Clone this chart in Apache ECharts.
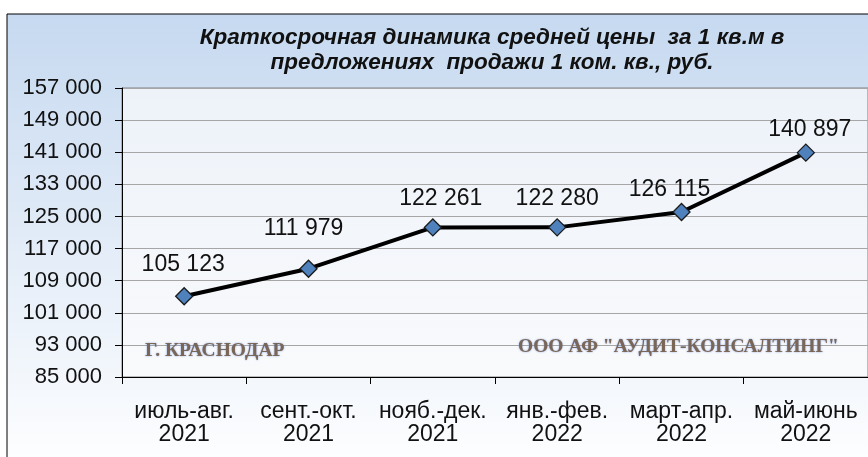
<!DOCTYPE html>
<html>
<head>
<meta charset="utf-8">
<script src="https://cdn.jsdelivr.net/npm/echarts@6/dist/echarts.min.js"></script>
<style>
  html, body { margin: 0; padding: 0; background: #ffffff; }
  #chart { width: 868px; height: 457px; }
</style>
</head>
<body>
<div id="chart"></div>
<script>
// данные
const periods = ['июль-авг.\n2021', 'сент.-окт.\n2021', 'нояб.-дек.\n2021', 'янв.-фев.\n2022', 'март-апр.\n2022', 'май-июнь\n2022']
const prices = [105123, 111979, 122261, 122280, 126115, 140897]
const yMin = 85000
const yMax = 157000
const yStep = 8000

// сдвиг подписей (как в исходной диаграмме)
const labelShift = [[-1, -6], [-5, -14], [8, -3], [0, -3], [-12, 3], [4, 3]]

const fmt = (v) => String(v).replace(/\B(?=(\d{3})+(?!\d))/g, ' ')

const chart = echarts.init(document.getElementById('chart'))
chart.setOption({
  backgroundColor: '#ffffff',
  animation: false,
  textStyle: { fontFamily: 'Arial, "Liberation Sans", sans-serif' },
  graphic: [
    {
      type: 'rect',
      z: -10,
      shape: { x: 7, y: 14, width: 880, height: 460 },
      style: {
        fill: new echarts.graphic.LinearGradient(0, 0, 0, 1, [
          { offset: 0, color: '#c6d9f0' },
          { offset: 1, color: '#ffffff' },
        ]),
        stroke: '#000000',
        lineWidth: 1,
      },
    },
    {
      type: 'text',
      x: 492,
      y: 50,
      style: {
        text: 'Краткосрочная динамика средней цены  за 1 кв.м в\nпредложениях  продажи 1 ком. кв., руб.',
        align: 'center',
        verticalAlign: 'middle',
        fontFamily: 'Arial, "Liberation Sans", sans-serif',
        fontStyle: 'italic',
        fontWeight: 'bold',
        fontSize: 22.5,
        lineHeight: 25,
        fill: '#111111',
      },
    },
    {
      type: 'text',
      x: 145,
      y: 351,
      z: 5,
      style: {
        text: 'Г. КРАСНОДАР',
        verticalAlign: 'middle',
        fontFamily: '"Liberation Serif", "Times New Roman", serif',
        fontWeight: 'bold',
        fontSize: 19.5,
        fill: '#7a6656',
        textShadowColor: 'rgba(80,120,210,0.7)',
        textShadowBlur: 2,
      },
    },
    {
      type: 'text',
      x: 518,
      y: 347,
      z: 5,
      style: {
        text: 'ООО АФ "АУДИТ-КОНСАЛТИНГ"',
        verticalAlign: 'middle',
        fontFamily: '"Liberation Serif", "Times New Roman", serif',
        fontWeight: 'bold',
        fontSize: 19.5,
        fill: '#7a6656',
        textShadowColor: 'rgba(80,120,210,0.7)',
        textShadowBlur: 2,
      },
    },
  ],
  grid: {
    left: 122,
    top: 88,
    width: 749,
    height: 289,
    show: true,
    backgroundColor: new echarts.graphic.LinearGradient(0, 0, 0, 1, [
      { offset: 0, color: '#edf2f9' },
      { offset: 1, color: '#f9fafc' },
    ]),
    borderColor: '#7f7f7f',
    borderWidth: 1,
  },
  xAxis: {
    type: 'category',
    data: periods,
    boundaryGap: true,
    axisLine: { show: true, lineStyle: { color: '#000000', width: 1 } },
    axisTick: { show: true, length: 7, lineStyle: { color: '#000000' } },
    axisLabel: {
      color: '#111111',
      fontSize: 23,
      lineHeight: 23,
      margin: 23,
      interval: 0,
    },
    splitLine: { show: false },
  },
  yAxis: {
    type: 'value',
    min: yMin,
    max: yMax,
    interval: yStep,
    axisLine: { show: true, lineStyle: { color: '#000000', width: 1 } },
    axisTick: { show: true, length: 7, lineStyle: { color: '#000000' } },
    axisLabel: {
      color: '#111111',
      fontSize: 22,
      margin: 20,
      formatter: (v) => fmt(v),
    },
    splitLine: { show: true, lineStyle: { color: '#a6a6a6', width: 1 } },
  },
  series: [
    {
      type: 'line',
      data: prices.map((v, i) => ({
        value: v,
        label: { offset: labelShift[i] },
      })),
      symbol: 'diamond',
      symbolSize: 17,
      lineStyle: { color: '#000000', width: 4 },
      itemStyle: { color: '#4f81bd', borderColor: '#1a1a1a', borderWidth: 1.3 },
      label: {
        show: true,
        position: 'top',
        distance: 5,
        color: '#111111',
        fontSize: 23,
        formatter: (p) => fmt(p.value),
      },
      z: 10,
    },
  ],
})
</script>
</body>
</html>
